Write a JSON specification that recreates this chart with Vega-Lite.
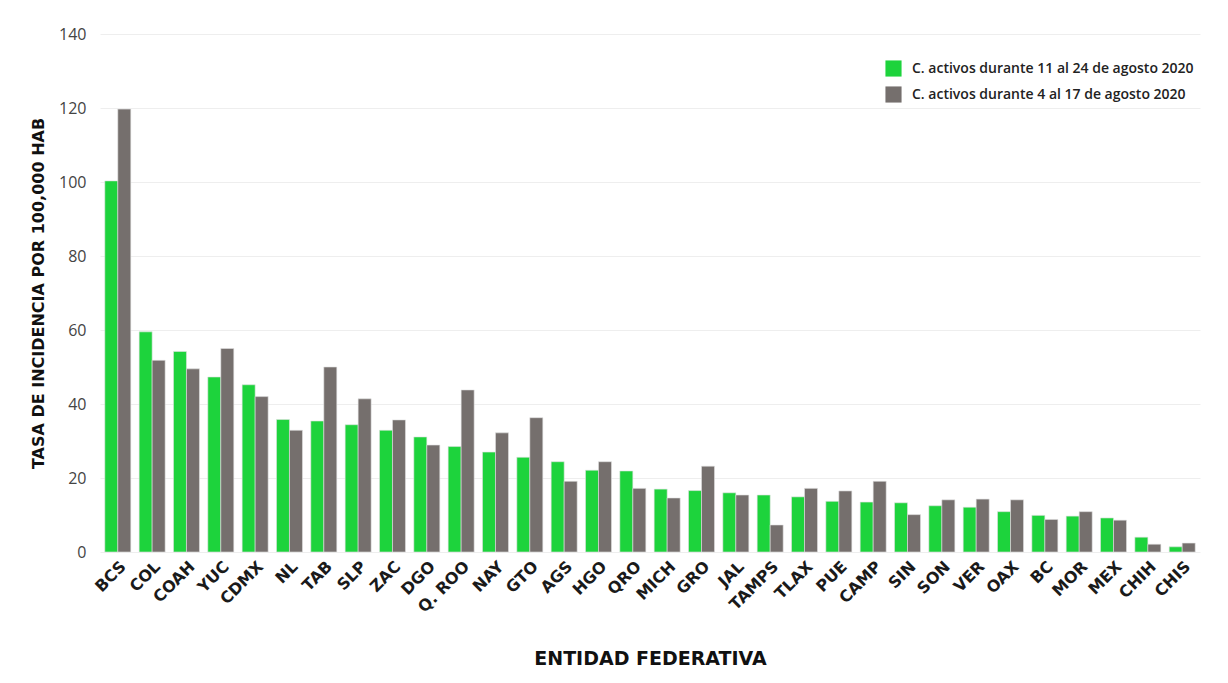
{
  "$schema": "https://vega.github.io/schema/vega-lite/v6.json",
  "autosize": {"type": "none"},
  "width": 1100,
  "height": 518,
  "padding": {"left": 100, "top": 34, "right": 28, "bottom": 131},
  "background": "white",
  "config": {
    "font": "Open Sans",
    "view": {"stroke": null}
  },
  "data": {
    "values": [
      {"estado": "BCS", "serie": "C. activos durante 11 al 24 de agosto 2020", "valor": 100.3},
      {"estado": "BCS", "serie": "C. activos durante 4 al 17 de agosto 2020", "valor": 119.7},
      {"estado": "COL", "serie": "C. activos durante 11 al 24 de agosto 2020", "valor": 59.5},
      {"estado": "COL", "serie": "C. activos durante 4 al 17 de agosto 2020", "valor": 51.8},
      {"estado": "COAH", "serie": "C. activos durante 11 al 24 de agosto 2020", "valor": 54.2},
      {"estado": "COAH", "serie": "C. activos durante 4 al 17 de agosto 2020", "valor": 49.5},
      {"estado": "YUC", "serie": "C. activos durante 11 al 24 de agosto 2020", "valor": 47.3},
      {"estado": "YUC", "serie": "C. activos durante 4 al 17 de agosto 2020", "valor": 55.0},
      {"estado": "CDMX", "serie": "C. activos durante 11 al 24 de agosto 2020", "valor": 45.2},
      {"estado": "CDMX", "serie": "C. activos durante 4 al 17 de agosto 2020", "valor": 42.0},
      {"estado": "NL", "serie": "C. activos durante 11 al 24 de agosto 2020", "valor": 35.8},
      {"estado": "NL", "serie": "C. activos durante 4 al 17 de agosto 2020", "valor": 32.9},
      {"estado": "TAB", "serie": "C. activos durante 11 al 24 de agosto 2020", "valor": 35.4},
      {"estado": "TAB", "serie": "C. activos durante 4 al 17 de agosto 2020", "valor": 50.0},
      {"estado": "SLP", "serie": "C. activos durante 11 al 24 de agosto 2020", "valor": 34.4},
      {"estado": "SLP", "serie": "C. activos durante 4 al 17 de agosto 2020", "valor": 41.4},
      {"estado": "ZAC", "serie": "C. activos durante 11 al 24 de agosto 2020", "valor": 32.9},
      {"estado": "ZAC", "serie": "C. activos durante 4 al 17 de agosto 2020", "valor": 35.7},
      {"estado": "DGO", "serie": "C. activos durante 11 al 24 de agosto 2020", "valor": 31.1},
      {"estado": "DGO", "serie": "C. activos durante 4 al 17 de agosto 2020", "valor": 28.9},
      {"estado": "Q. ROO", "serie": "C. activos durante 11 al 24 de agosto 2020", "valor": 28.5},
      {"estado": "Q. ROO", "serie": "C. activos durante 4 al 17 de agosto 2020", "valor": 43.8},
      {"estado": "NAY", "serie": "C. activos durante 11 al 24 de agosto 2020", "valor": 27.0},
      {"estado": "NAY", "serie": "C. activos durante 4 al 17 de agosto 2020", "valor": 32.2},
      {"estado": "GTO", "serie": "C. activos durante 11 al 24 de agosto 2020", "valor": 25.6},
      {"estado": "GTO", "serie": "C. activos durante 4 al 17 de agosto 2020", "valor": 36.3},
      {"estado": "AGS", "serie": "C. activos durante 11 al 24 de agosto 2020", "valor": 24.4},
      {"estado": "AGS", "serie": "C. activos durante 4 al 17 de agosto 2020", "valor": 19.1},
      {"estado": "HGO", "serie": "C. activos durante 11 al 24 de agosto 2020", "valor": 22.1},
      {"estado": "HGO", "serie": "C. activos durante 4 al 17 de agosto 2020", "valor": 24.4},
      {"estado": "QRO", "serie": "C. activos durante 11 al 24 de agosto 2020", "valor": 21.9},
      {"estado": "QRO", "serie": "C. activos durante 4 al 17 de agosto 2020", "valor": 17.2},
      {"estado": "MICH", "serie": "C. activos durante 11 al 24 de agosto 2020", "valor": 17.0},
      {"estado": "MICH", "serie": "C. activos durante 4 al 17 de agosto 2020", "valor": 14.6},
      {"estado": "GRO", "serie": "C. activos durante 11 al 24 de agosto 2020", "valor": 16.6},
      {"estado": "GRO", "serie": "C. activos durante 4 al 17 de agosto 2020", "valor": 23.2},
      {"estado": "JAL", "serie": "C. activos durante 11 al 24 de agosto 2020", "valor": 16.0},
      {"estado": "JAL", "serie": "C. activos durante 4 al 17 de agosto 2020", "valor": 15.4},
      {"estado": "TAMPS", "serie": "C. activos durante 11 al 24 de agosto 2020", "valor": 15.4},
      {"estado": "TAMPS", "serie": "C. activos durante 4 al 17 de agosto 2020", "valor": 7.3},
      {"estado": "TLAX", "serie": "C. activos durante 11 al 24 de agosto 2020", "valor": 14.9},
      {"estado": "TLAX", "serie": "C. activos durante 4 al 17 de agosto 2020", "valor": 17.2},
      {"estado": "PUE", "serie": "C. activos durante 11 al 24 de agosto 2020", "valor": 13.7},
      {"estado": "PUE", "serie": "C. activos durante 4 al 17 de agosto 2020", "valor": 16.5},
      {"estado": "CAMP", "serie": "C. activos durante 11 al 24 de agosto 2020", "valor": 13.5},
      {"estado": "CAMP", "serie": "C. activos durante 4 al 17 de agosto 2020", "valor": 19.1},
      {"estado": "SIN", "serie": "C. activos durante 11 al 24 de agosto 2020", "valor": 13.3},
      {"estado": "SIN", "serie": "C. activos durante 4 al 17 de agosto 2020", "valor": 10.1},
      {"estado": "SON", "serie": "C. activos durante 11 al 24 de agosto 2020", "valor": 12.5},
      {"estado": "SON", "serie": "C. activos durante 4 al 17 de agosto 2020", "valor": 14.1},
      {"estado": "VER", "serie": "C. activos durante 11 al 24 de agosto 2020", "valor": 12.1},
      {"estado": "VER", "serie": "C. activos durante 4 al 17 de agosto 2020", "valor": 14.3},
      {"estado": "OAX", "serie": "C. activos durante 11 al 24 de agosto 2020", "valor": 10.9},
      {"estado": "OAX", "serie": "C. activos durante 4 al 17 de agosto 2020", "valor": 14.1},
      {"estado": "BC", "serie": "C. activos durante 11 al 24 de agosto 2020", "valor": 9.9},
      {"estado": "BC", "serie": "C. activos durante 4 al 17 de agosto 2020", "valor": 8.8},
      {"estado": "MOR", "serie": "C. activos durante 11 al 24 de agosto 2020", "valor": 9.7},
      {"estado": "MOR", "serie": "C. activos durante 4 al 17 de agosto 2020", "valor": 10.9},
      {"estado": "MEX", "serie": "C. activos durante 11 al 24 de agosto 2020", "valor": 9.2},
      {"estado": "MEX", "serie": "C. activos durante 4 al 17 de agosto 2020", "valor": 8.6},
      {"estado": "CHIH", "serie": "C. activos durante 11 al 24 de agosto 2020", "valor": 4.0},
      {"estado": "CHIH", "serie": "C. activos durante 4 al 17 de agosto 2020", "valor": 2.1},
      {"estado": "CHIS", "serie": "C. activos durante 11 al 24 de agosto 2020", "valor": 1.4},
      {"estado": "CHIS", "serie": "C. activos durante 4 al 17 de agosto 2020", "valor": 2.4}
    ]
  },
  "mark": {"type": "bar", "stroke": "#e0e0e0", "strokeWidth": 0.6},
  "encoding": {
    "x": {
      "field": "estado",
      "type": "nominal",
      "sort": null,
      "scale": {"paddingInner": 0.243, "paddingOuter": 0.14},
      "axis": {
        "title": "ENTIDAD FEDERATIVA",
        "titleFont": "DejaVu Sans",
        "titleFontSize": 19,
        "titleFontWeight": "bold",
        "titleColor": "#111111",
        "titleY": 97,
        "titleBaseline": "top",
        "labelAngle": -45,
        "labelFont": "DejaVu Sans",
        "labelFontSize": 16,
        "labelFontWeight": "bold",
        "labelColor": "#1a1a1a",
        "labelPadding": 6,
        "ticks": false,
        "domain": false,
        "grid": false
      }
    },
    "xOffset": {
      "field": "serie",
      "type": "nominal",
      "sort": ["C. activos durante 11 al 24 de agosto 2020", "C. activos durante 4 al 17 de agosto 2020"],
      "scale": {"paddingInner": 0, "paddingOuter": 0}
    },
    "y": {
      "field": "valor",
      "type": "quantitative",
      "scale": {"domain": [0, 140], "nice": false},
      "axis": {
        "title": "TASA DE INCIDENCIA  POR 100,000 HAB",
        "titleFont": "DejaVu Sans",
        "titleFontSize": 16,
        "titleFontWeight": "bold",
        "titleColor": "#111111",
        "titlePadding": 12,
        "values": [0, 20, 40, 60, 80, 100, 120, 140],
        "labelFontSize": 16,
        "labelColor": "#444444",
        "labelPadding": 14,
        "ticks": false,
        "domain": false,
        "gridColor": "#eeeeee",
        "gridWidth": 1
      }
    },
    "color": {
      "field": "serie",
      "type": "nominal",
      "sort": ["C. activos durante 11 al 24 de agosto 2020", "C. activos durante 4 al 17 de agosto 2020"],
      "scale": {
        "domain": ["C. activos durante 11 al 24 de agosto 2020", "C. activos durante 4 al 17 de agosto 2020"],
        "range": ["#1dd33c", "#756f6d"]
      },
      "legend": {
        "title": null,
        "orient": "none",
        "legendX": 785,
        "legendY": 26,
        "symbolType": "square",
        "symbolSize": 260,
        "symbolStrokeWidth": 0,
        "labelFontSize": 14,
        "labelFontWeight": 600,
        "labelColor": "#222222",
        "labelLimit": 400,
        "rowPadding": 9,
        "labelOffset": 10
      }
    }
  }
}
